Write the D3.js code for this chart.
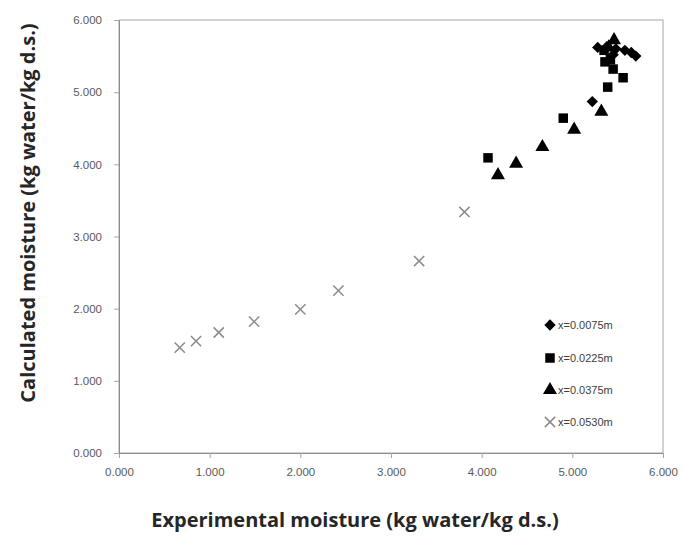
<!DOCTYPE html>
<html><head><meta charset="utf-8">
<script src="https://cdn.jsdelivr.net/npm/d3@7"></script>
<style>body{margin:0;background:#fff}</style>
</head><body>
<svg id="c" width="685" height="549"></svg>
<script>
const seriesNames = ["x=0.0075m","x=0.0225m","x=0.0375m","x=0.0530m"];
const d0075x = [5.22,5.28,5.38,5.48,5.58,5.65,5.70,5.45];
const d0075y = [4.87,5.62,5.63,5.60,5.58,5.55,5.50,5.52];
const d0225x = [4.07,4.90,5.39,5.56,5.36,5.45,5.35,5.42];
const d0225y = [4.09,4.64,5.07,5.20,5.42,5.32,5.58,5.45];
const d0375x = [4.18,4.38,4.67,5.02,5.32,5.46,5.40];
const d0375y = [3.85,4.01,4.24,4.48,4.73,5.72,5.62];
const d0530x = [0.67,0.85,1.10,1.49,2.00,2.42,3.31,3.81];
const d0530y = [1.46,1.55,1.67,1.82,1.99,2.25,2.66,3.34];
const tickVals = [0,1,2,3,4,5,6];

const svg = d3.select("#c");
const L=119,R=663,T=20,B=453;
const x = d3.scaleLinear().domain([0,6]).range([L,R]);
const y = d3.scaleLinear().domain([0,6]).range([B,T]);
const fmt = d3.format(".3f");

svg.append("rect").attr("x",L).attr("y",T).attr("width",R-L).attr("height",B-T)
  .attr("fill","none").attr("stroke","#a6a6a6").attr("stroke-width",1);

const gx = svg.append("g").attr("transform",`translate(0,${B})`)
  .call(d3.axisBottom(x).tickValues(tickVals).tickFormat(fmt).tickSize(5).tickPadding(10));
const gy = svg.append("g").attr("transform",`translate(${L},0)`)
  .call(d3.axisLeft(y).tickValues(tickVals).tickFormat(fmt).tickSize(5).tickPadding(12));
[gx,gy].forEach(g=>{
  g.select(".domain").attr("stroke","#8c8c8c");
  g.selectAll(".tick line").attr("stroke","#a6a6a6");
  g.selectAll(".tick text").attr("fill","#595959").style("font-family","Liberation Sans, Arial, sans-serif").style("font-size","11.5px");
});

svg.append("text").attr("x",355).attr("y",527).attr("text-anchor","middle")
  .style("font-family","Open Sans, sans-serif").style("font-weight","bold").style("font-size","20px")
  .attr("fill","#262626").text("Experimental moisture (kg water/kg d.s.)");
svg.append("text").attr("transform","translate(35,213) rotate(-90)").attr("text-anchor","middle")
  .style("font-family","Open Sans, sans-serif").style("font-weight","bold").style("font-size","20px")
  .attr("fill","#262626").text("Calculated moisture (kg water/kg d.s.)");

const diamond = {draw(ctx,size){const r=Math.sqrt(size/2);ctx.moveTo(0,-r);ctx.lineTo(r,0);ctx.lineTo(0,r);ctx.lineTo(-r,0);ctx.closePath();}};
const sym = [diamond, d3.symbolSquare, d3.symbolTriangle, d3.symbolX];
const sizes = [64, 90, 85, 70];
const xs=[d0075x,d0225x,d0375x,d0530x], ys=[d0075y,d0225y,d0375y,d0530y];
function drawMarker(g,i){
  const p = d3.symbol().type(sym[i]).size(sizes[i])();
  if(i===3) g.append("path").attr("d",p).attr("fill","none").attr("stroke","#8a8a8a").attr("stroke-width",1.5);
  else g.append("path").attr("d",p).attr("fill","#000");
}
xs.forEach((arr,i)=>{
  arr.forEach((v,j)=>{
    const g = svg.append("g").attr("transform",`translate(${x(v)},${y(ys[i][j])})`);
    drawMarker(g,i);
  });
});

const legY=[325,358,390,422];
seriesNames.forEach((n,i)=>{
  const g = svg.append("g").attr("transform",`translate(550,${legY[i]})`);
  drawMarker(g,i);
  svg.append("text").attr("x",558).attr("y",legY[i]+4).style("font-family","Liberation Sans, Arial, sans-serif")
    .style("font-size","11px").attr("fill","#404040").text(n);
});
</script>
</body></html>
